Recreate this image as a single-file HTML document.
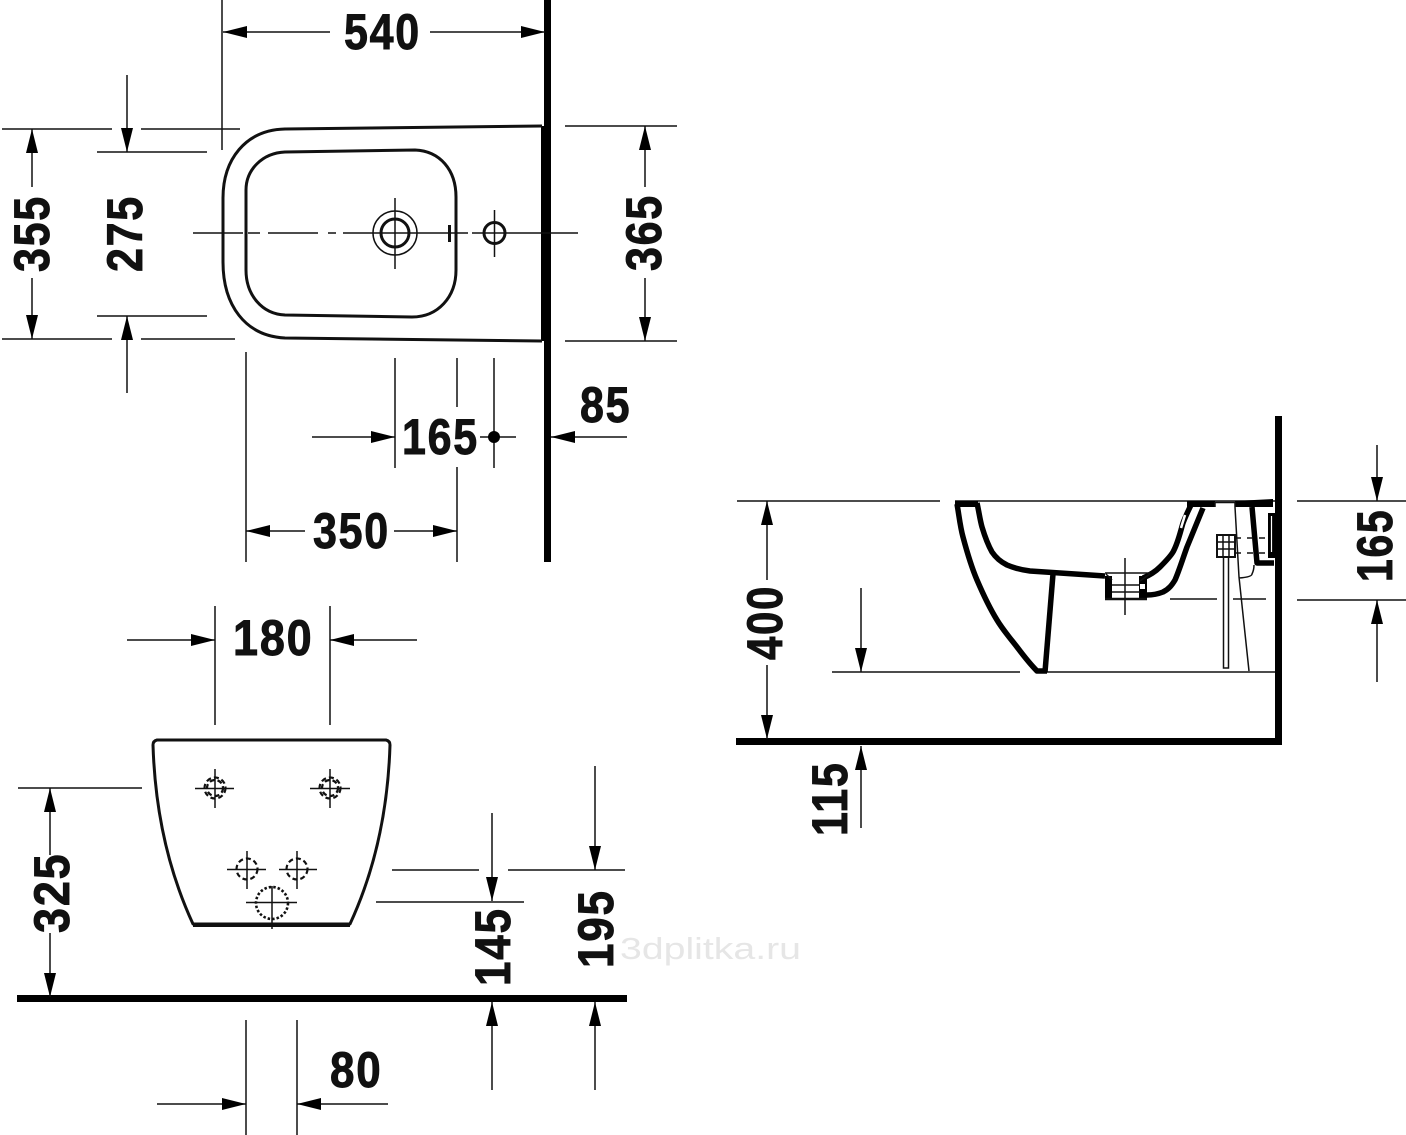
<!DOCTYPE html>
<html><head><meta charset="utf-8"><style>
html,body{margin:0;padding:0;background:#fff}
svg{display:block}
text{font-family:"Liberation Sans",sans-serif;font-weight:bold;font-size:50px;fill:#111;letter-spacing:2px;stroke:#111;stroke-width:.9}
.t{stroke:#111;stroke-width:1.5;fill:none}
.a{stroke:#111;stroke-width:1.5;fill:none;marker-end:url(#ar)}
.o{stroke:#111;stroke-width:3;fill:none;stroke-linejoin:round}
.k{stroke:#000;stroke-width:5.5;fill:none;stroke-linejoin:round}
.f{fill:#000;stroke:none}
</style></head><body>
<svg xmlns="http://www.w3.org/2000/svg" width="1406" height="1135" viewBox="0 0 1406 1135">
<defs><marker id="ar" markerUnits="userSpaceOnUse" markerWidth="25" markerHeight="14" refX="24" refY="7" orient="auto"><path d="M0 1L24 7L0 13Z" fill="#000"/></marker></defs>
<rect width="1406" height="1135" fill="#fff"/>

<text x="620" y="959" style="font-size:31px;font-weight:normal;fill:#e6e6e6;letter-spacing:0;stroke:none" textLength="181" lengthAdjust="spacingAndGlyphs">3dplitka.ru</text>

<!-- TOP VIEW -->
<rect class="f" x="544" y="0" width="7" height="562"/>
<rect class="f" x="541" y="126" width="4" height="215"/>
<path class="o" d="M542 126L285 129C245 130 223 160 223 198V262C223 305 245 336 285 338L542 341"/>
<path class="o" d="M285 152L415 150C440 151 456 170 456 197V270C456 297 438 317 412 317L285 315C262 314 246 295 246 270V190C246 170 262 153 285 152Z"/>
<path class="t" d="M193 233H243M248 233H260M268 233H318M328 233H336M343 233H468M472 233H578"/>
<path class="t" d="M395 198V269M494.500 210V257"/>
<circle class="t" cx="395" cy="233" r="22"/>
<circle class="o" cx="395" cy="233" r="14"/>
<circle class="o" cx="494.500" cy="233" r="10.500"/>
<path class="o" d="M449.500 225V242"/>

<path class="t" d="M222 0V150M2 129H112M141 129H240M2 339H112M141 339H235M97 152H207M97 316H207M565 126H677M565 341H677M395 358V468M457 358V407M457 467V562M494 358V468M246 352V562M480 437H516"/>
<line class="a" x1="330" y1="32" x2="223" y2="32"/>
<line class="a" x1="430" y1="32" x2="545" y2="32"/>
<line class="a" x1="127" y1="75" x2="127" y2="152"/>
<line class="a" x1="127" y1="393" x2="127" y2="316"/>
<line class="a" x1="32" y1="187" x2="32" y2="129"/>
<line class="a" x1="32" y1="278" x2="32" y2="339"/>
<line class="a" x1="645" y1="187" x2="645" y2="126"/>
<line class="a" x1="645" y1="278" x2="645" y2="341"/>
<line class="a" x1="312" y1="437" x2="395" y2="437"/>
<line class="a" x1="627" y1="437" x2="551" y2="437"/>
<line class="a" x1="305" y1="531" x2="246" y2="531"/>
<line class="a" x1="394" y1="531" x2="457" y2="531"/>
<circle class="f" cx="494" cy="437" r="6"/>

<text transform="translate(344 49) scale(.86 1)">540</text>
<text transform="translate(402 454) scale(.86 1)">165</text>
<text transform="translate(580 422) scale(.86 1)">85</text>
<text transform="translate(313 548) scale(.86 1)">350</text>
<text transform="translate(49 272) rotate(-90) scale(.86 1)">355</text>
<text transform="translate(142 272) rotate(-90) scale(.86 1)">275</text>
<text transform="translate(661 271) rotate(-90) scale(.86 1)">365</text>

<!-- FRONT VIEW -->
<rect class="f" x="17" y="995" width="610" height="7"/>
<path class="o" d="M157 740L386 740Q390 741 390 745C388 810 375 870 350 924L193 924C168 870 155 810 153 745Q153 741 157 740Z"/>
<path class="o" style="stroke-width:4" d="M193 925H350"/>
<path class="t" d="M195 788.500H234M215 769V808M310 788.500H350M330 769V808M227 869.500H266M247 851V889M279 869.500H317M297 851V889M246 902.500H297M272 886V929"/>
<g fill="none" stroke="#111" stroke-width="2.200" stroke-dasharray="5 3">
<circle cx="215" cy="788" r="10.500"/><circle cx="215" cy="788" r="8"/>
<circle cx="330" cy="788" r="10.500"/><circle cx="330" cy="788" r="8"/>
<circle cx="247" cy="869" r="10.500"/><circle cx="297" cy="869" r="10.500"/>
</g>
<circle cx="272" cy="903" r="16" fill="none" stroke="#111" stroke-width="2.600" stroke-dasharray="2.500 2"/>

<path class="t" d="M215 606V725M330 606V725M18 788H142M392 870H479M508 870H625M376 902H524M246 1020V1135M297 1020V1135"/>
<line class="a" x1="127" y1="640" x2="215" y2="640"/>
<line class="a" x1="417" y1="640" x2="330" y2="640"/>
<line class="a" x1="50" y1="855" x2="50" y2="788"/>
<line class="a" x1="50" y1="933" x2="50" y2="997"/>
<line class="a" x1="492" y1="813" x2="492" y2="901"/>
<line class="a" x1="492" y1="1090" x2="492" y2="1002"/>
<line class="a" x1="595" y1="766" x2="595" y2="870"/>
<line class="a" x1="595" y1="1090" x2="595" y2="1002"/>
<line class="a" x1="157" y1="1104" x2="246" y2="1104"/>
<line class="a" x1="388" y1="1104" x2="297" y2="1104"/>

<text transform="translate(233 655) scale(.9 1)">180</text>
<text transform="translate(330 1087) scale(.88 1)">80</text>
<text transform="translate(69 933) rotate(-90) scale(.9 1)">325</text>
<text transform="translate(510 986) rotate(-90) scale(.88 1)">145</text>
<text transform="translate(613 968) rotate(-90) scale(.88 1)">195</text>

<!-- SIDE VIEW -->
<rect class="f" x="1275" y="416" width="7" height="329"/>
<rect class="f" x="736" y="738" width="546" height="7"/>
<path class="t" d="M737 501H940M955 501H1275M832 672H1020M1040 672H1275M1170 599H1217M1233 599H1266M1297 501H1406M1297 600H1406"/>
<path class="f" d="M955 501H978V507H955Z"/>
<path class="k" d="M957 504C959 515 960 526 963 537C967 552 971 566 977 580C983 594 989 607 997 620C1003 630 1010 638 1017 647C1023 655 1030 664 1037 671H1047"/>
<path class="k" d="M977 503C979 512 980 520 982 527C985 537 988 545 992 552C996 558 1001 562 1007 565C1014 568 1022 570 1030 571L1105 576"/>
<path class="k" d="M1053 574L1045 672"/>
<path class="k" d="M1143 578C1150 575 1155 572 1160 567C1166 561 1170 557 1173 552C1178 543 1180 533 1183 523C1186 515 1189 509 1192 503"/>
<path class="k" d="M1147 595C1153 595 1158 594 1163 592C1169 589 1172 585 1175 580C1179 571 1183 558 1187 547L1203 508"/>
<!-- neck -->
<rect class="f" x="1105" y="576" width="7" height="24"/>
<rect class="f" x="1139" y="576" width="8" height="24"/>
<rect x="1140" y="584" width="5" height="5" fill="#fff"/>
<path class="o" style="stroke-width:2.500" d="M1105 599H1147"/>
<path class="t" d="M1105 573H1150M1112 585H1140M1112 592H1140M1125 558V615M1106 574L1112 580M1150 574L1140 581"/>
<!-- rim -->
<path class="f" d="M1187 501H1215V507H1187ZM1235 501L1273 499V507H1235Z"/>
<path class="t" d="M1215 502.500H1235M1215 502V507M1235 502V507"/>
<path d="M1185 515L1181 528" stroke="#fff" stroke-width="2.500" fill="none"/>
<!-- bracket -->
<path class="t" d="M1235 507L1239 577L1249 671M1239 578Q1252 577 1252 574Q1254 570 1254 565"/>
<path class="k" d="M1252 507L1257 563H1274"/>
<path class="f" d="M1268 513H1275V558H1268Z"/>
<path d="M1271.500 516V552" stroke="#fff" stroke-width="1.200" fill="none"/>
<rect x="1217" y="535" width="18" height="22" fill="#fff" stroke="#111" stroke-width="2"/>
<path class="t" d="M1223 535V557M1229 535V557M1217 542H1235M1217 549H1235"/>
<rect class="t" x="1223.500" y="557" width="5" height="111"/>
<path class="t" stroke-dasharray="6 6" d="M1235 538H1266M1235 553H1266"/>

<line class="a" x1="767" y1="580" x2="767" y2="501"/>
<line class="a" x1="767" y1="665" x2="767" y2="739"/>
<line class="a" x1="861" y1="588" x2="861" y2="672"/>
<line class="a" x1="861" y1="828" x2="861" y2="746"/>
<line class="a" x1="1377" y1="445" x2="1377" y2="501"/>
<line class="a" x1="1377" y1="682" x2="1377" y2="600"/>

<text transform="translate(782 660) rotate(-90) scale(.84 1)">400</text>
<text transform="translate(847 836) rotate(-90) scale(.86 1)">115</text>
<text transform="translate(1392 582) rotate(-90) scale(.82 1)">165</text>
</svg>
</body></html>
